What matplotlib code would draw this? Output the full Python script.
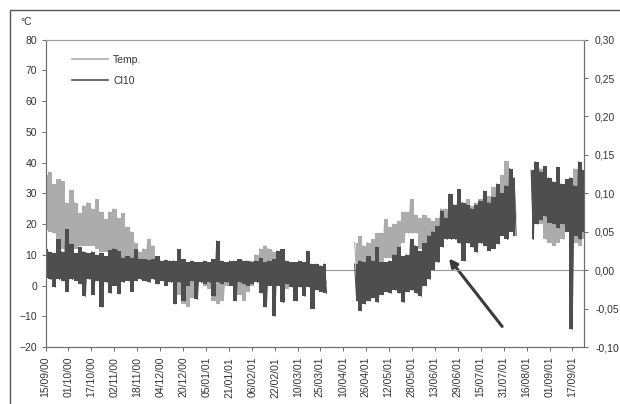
import numpy as np
import pandas as pd
import matplotlib
matplotlib.use("Agg")
import matplotlib.pyplot as plt
import matplotlib.dates as mdates
from matplotlib.patches import Rectangle
from matplotlib.lines import Line2D

plt.rcParams['font.family'] = ['Liberation Sans', 'DejaVu Sans']

# series sampled every 3 days from 15/09/00; each sample keeps the high and low of the period
start = np.datetime64('2000-09-15')
step_days = 3
nan = np.nan

temp_hi = [36, 37, 33, 34.5, 34, 27, 31, 27, 23.5, 26,
           27, 25, 28, 24, 21.5, 24, 25, 22, 23.5, 19,
           17.5, 14, 11, 12, 15, 13, 9, 7, 6, 5,
           6, 5, 4, 4, 5, 4, 5, 6, 5, 4,
           3, 4, 5, 5, 4, 4, 5, 6, 8, 10,
           12, 13, 12, 11, 10, 7, 6, 5, 4, 4,
           3, 3, 4, 3, 3, 3, nan, nan, nan, nan,
           nan, nan, 14, 16, 13, 14, 15, 17, 17, 21.5,
           19, 20, 21, 24, 24, 28, 23, 22, 23, 22,
           21, 22, 25, 25, 26, 25, 25, 27, 28, 26,
           27, 28, 26, 29, 32, 33, 36, 40.5, 38, 35,
           nan, nan, nan, 37, 39.5, 38, 37, 35, 33, 34,
           33, 34, 35, 38, 39, 37]

temp_lo = [18, 17.5, 17, 15, 12, 11, 11, 12, 13, 13,
           13, 13, 12, 11, 11, 10.5, 10, 9, 8.5, 8,
           7, 7, 6, 6.5, 7, 6, 4, 3, 0, 1,
           0, -3, -6, -7, -4, 0, 1, 0, -1, -5,
           -6, -5, 0, 1, 0, -3, -5, -2, 0, 1,
           2, 1, 2, 1, 1, 0, -1, 0, 1, 0,
           -1, 0, 0, 0, 0, 1, nan, nan, nan, nan,
           nan, nan, 4, 4, 5, 5, 5, 6, 7, 9,
           9, 10, 11, 14, 17, 17, 17, 12, 10, 10,
           12, 14, 15, 16, 18, 17, 17, 16, 16, 17,
           17, 18, 17, 19, 20, 21, 22, 22, 21, 22,
           nan, nan, nan, 20, 22, 20, 15, 14, 13, 14,
           15, 18, 17, 14, 13, 15]

cl_hi = [.027, .024, .022, .040, .024, .053, .034, .022, .030, .024,
         .022, .024, .020, .022, .018, .026, .028, .025, .016, .018,
         .016, .027, .014, .014, .013, .014, .018, .012, .013, .012,
         .012, .027, .014, .010, .012, .010, .010, .012, .010, .014,
         .038, .012, .010, .012, .012, .014, .012, .012, .010, .012,
         .016, .010, .012, .014, .025, .027, .012, .010, .010, .012,
         .010, .025, .008, .008, .006, .008, nan, nan, nan, nan,
         nan, nan, .008, .012, .010, .018, .012, .030, .010, .010,
         .012, .020, .030, .018, .020, .040, .032, .025, .035, .045,
         .050, .057, .077, .068, .099, .085, .105, .088, .085, .080,
         .085, .090, .103, .088, .095, .112, .100, .110, .132, .120,
         nan, nan, nan, .130, .141, .128, .135, .120, .115, .134,
         .112, .118, .120, .110, .141, .130]

cl_lo = [-.010, -.012, -.022, -.012, -.014, -.028, -.012, -.014, -.018, -.034,
         -.012, -.032, -.014, -.048, -.016, -.030, -.020, -.031, -.016, -.014,
         -.028, -.014, -.012, -.014, -.016, -.012, -.018, -.014, -.020, -.016,
         -.044, -.016, -.040, -.020, -.014, -.038, -.016, -.018, -.016, -.034,
         -.016, -.018, -.016, -.020, -.040, -.016, -.018, -.020, -.018, -.016,
         -.030, -.048, -.020, -.060, -.020, -.042, -.018, -.022, -.040, -.022,
         -.034, -.022, -.050, -.026, -.028, -.030, nan, nan, nan, nan,
         nan, nan, -.040, -.053, -.044, -.040, -.036, -.042, -.032, -.028,
         -.030, -.026, -.030, -.042, -.028, -.026, -.030, -.034, -.020, -.012,
         .000, .010, .030, .040, .040, .040, .035, .012, .035, .030,
         .023, .035, .032, .025, .028, .034, .045, .040, .050, .045,
         nan, nan, nan, .040, .060, .065, .070, .062, .060, .055,
         .060, .050, -.077, .045, .040, .050]

date_labels = ['15/09/00', '01/10/00', '17/10/00', '02/11/00', '18/11/00', '04/12/00',
               '20/12/00', '05/01/01', '21/01/01', '06/02/01', '22/02/01', '10/03/01',
               '25/03/01', '10/04/01', '26/04/01', '12/05/01', '28/05/01', '13/06/01',
               '29/06/01', '15/07/01', '31/07/01', '16/08/01', '01/09/01', '17/09/01']

temp_color = '#acacac'
cl_color = '#4e4e4e'
text_color = '#333333'
axis_color = '#6e6e6e'

base = mdates.date2num(start)
days = base + step_days * np.arange(len(temp_hi))


def zigzag(x, hi, lo):
    xs = np.column_stack([x - step_days / 4, x + step_days / 4]).ravel()
    ys = np.column_stack([hi, lo]).ravel()
    return xs, ys


fig = plt.figure(figsize=(6.2, 4.04), dpi=100)
ax = fig.add_axes([0.0734, 0.141, 0.8685, 0.761])
ax2 = ax.twinx()

# temperature on the left axis
ax.fill_between(days, temp_lo, temp_hi, step='mid', color=temp_color, lw=0)
ax.plot(*zigzag(days, np.array(temp_hi), np.array(temp_lo)), color=temp_color, lw=0.8)

# Cl10 on the right axis, with its zero line
ax2.axhline(0, color='#9a9a9a', lw=0.8, zorder=1)
ax2.fill_between(days, cl_lo, cl_hi, step='mid', color=cl_color, lw=0, zorder=2)
ax2.plot(*zigzag(days, np.array(cl_hi), np.array(cl_lo)), color=cl_color, lw=0.8, zorder=2)

ax.set_xlim(base, base + 375)
ax.set_ylim(-20, 80)
ax2.set_ylim(-0.10, 0.30)

ax.set_yticks(np.arange(-20, 81, 10))
ax2.set_yticks(np.arange(-0.10, 0.301, 0.05))
ax2.set_yticklabels([f"{v:.2f}".replace('.', ',').replace('-0,00', '0,00')
                     for v in np.arange(-0.10, 0.301, 0.05)])

tick_pos = mdates.date2num(pd.to_datetime(date_labels, format='%d/%m/%y'))
ax.set_xticks(tick_pos)
ax.set_xticklabels(date_labels, rotation=90)

ax.tick_params(axis='x', direction='out', length=3, width=0.7, pad=4,
               labelsize=7.5, colors=axis_color, labelcolor=text_color)
ax.tick_params(axis='y', direction='out', length=3, width=0.7, pad=3,
               labelsize=7.5, colors=axis_color, labelcolor=text_color)
ax2.tick_params(axis='y', direction='out', length=3, width=0.7, pad=5,
                labelsize=7.5, colors=axis_color, labelcolor=text_color)

for a in (ax, ax2):
    for side in ('left', 'right', 'bottom'):
        a.spines[side].set_color(axis_color)
        a.spines[side].set_linewidth(0.8)
    a.spines['top'].set_color('#a0a0a0')
    a.spines['top'].set_linewidth(0.8)
    a.spines['top'].set_linestyle((0, (2, 1)))

handles = [Line2D([], [], color=temp_color, lw=1.2), Line2D([], [], color=cl_color, lw=1.2)]
ax2.legend(handles, ['Temp.', 'Cl10'], loc='upper left', bbox_to_anchor=(0.05, 0.95),
           frameon=False, fontsize=7.5, handlelength=3.4, handletextpad=0.5,
           labelspacing=1.05, borderpad=0, borderaxespad=0, labelcolor=text_color)

# arrow marking the rise of Cl10
ax.annotate('', xy=(base + 281, 8.8), xytext=(base + 318, -13.3),
            arrowprops=dict(arrowstyle='-|>', color='#3a3a3a', lw=2.2, mutation_scale=12,
                            shrinkA=0, shrinkB=0))

fig.text(20 / 620, 1 - 22 / 404, '°C', fontsize=7.5, color=text_color, va='center')
fig.patches.append(Rectangle((10 / 620, -0.05), 1.0, 1.05 - 10 / 404, transform=fig.transFigure,
                             fill=False, ec='#555555', lw=1.0))

fig.savefig('out.png', dpi=100)
